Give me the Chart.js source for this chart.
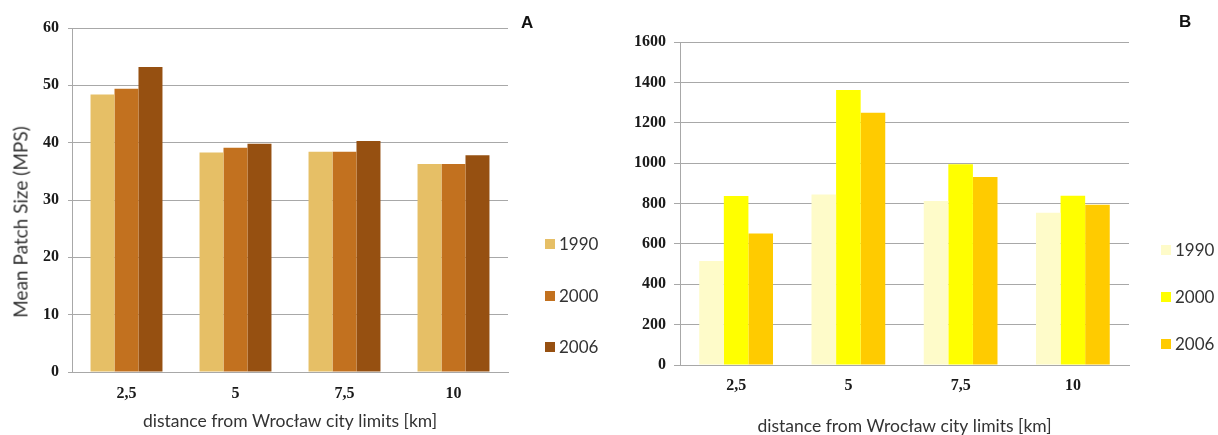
<!DOCTYPE html>
<html>
<head>
<meta charset="utf-8">
<script src="https://cdn.jsdelivr.net/npm/chart.js@4.4.1/dist/chart.umd.min.js"></script>
<style>
  html, body { margin: 0; padding: 0; background: #fff; }
  #wrap { position: relative; width: 1218px; height: 435px; overflow: hidden; background: #fff; }
  canvas { position: absolute; top: 0; }
  .lbl { position: absolute; font-family: 'Liberation Sans', Arial, sans-serif; font-weight: bold; font-size: 17px; color: #111; line-height: 1; }
  .ytitle { position: absolute; font-family: Lato, 'Open Sans', sans-serif; font-size: 19px; color: #333; white-space: nowrap; transform: translate(-50%, -50%) rotate(-90deg); line-height: 1; }
  .leg { position: absolute; font-family: Lato, 'Open Sans', sans-serif; font-size: 17px; color: #333; line-height: 1; white-space: nowrap; display: flex; align-items: center; }
  .leg i { display: inline-block; width: 10px; height: 10px; margin-right: 4px; }
</style>
</head>
<body>
<div id="wrap">
  <canvas id="cA" width="610" height="435" style="left:0px"></canvas>
  <canvas id="cB" width="608" height="435" style="left:610px"></canvas>
  <div class="lbl" style="left:521px; top:14px;">A</div>
  <div class="lbl" style="left:1179px; top:13px;">B</div>
  <div class="ytitle" style="left:20px; top:222px;">Mean Patch Size (MPS)</div>
  <div id="legA"></div>
  <div id="legB"></div>
</div>
<script>
// ---- data ----
const categories = ['2,5', '5', '7,5', '10'];
const years = ['1990', '2000', '2006'];
const mps1990 = [48.4, 38.3, 38.4, 36.3];
const mps2000 = [49.4, 39.1, 38.4, 36.3];
const mps2006 = [53.2, 39.8, 40.3, 37.8];
const b1990 = [515, 845, 812, 754];
const b2000 = [837, 1362, 994, 838];
const b2006 = [652, 1250, 931, 794];
const xTitle = 'distance from Wrocław city limits [km]';

// ---- styles ----
const colorsA = ['#E6BF66', '#C2711F', '#965011'];
const colorsB = ['#FEFBC9', '#FFFF00', '#FFCB00'];
const gridColor = '#a8a8a8';
const tickFont = { family: "'Liberation Serif', serif", size: 16, weight: 'bold' };
const titleFont = { family: "Lato, 'Open Sans', sans-serif", size: 17.5, lineHeight: 1 };

function makeChart(id, seriesList, colors, yMax, yStep, opts) {
  const datasets = seriesList.map((d, i) => ({
    label: years[i], data: d, backgroundColor: colors[i], borderWidth: 0,
    categoryPercentage: opts.cat, barPercentage: 1.0
  }));
  return new Chart(document.getElementById(id), {
    type: 'bar',
    data: { labels: categories, datasets },
    options: {
      responsive: false, animation: false, devicePixelRatio: 1,
      layout: { padding: { left: 0, top: opts.top, right: opts.right, bottom: 0 } },
      plugins: { legend: { display: false }, tooltip: { enabled: false } },
      scales: {
        x: {
          grid: { display: false, drawTicks: false },
          border: { display: true, color: gridColor, width: 1 },
          ticks: { font: tickFont, color: '#1a1a1a', padding: opts.xPad, maxRotation: 0 },
          title: { display: true, text: xTitle, font: titleFont, color: '#333', padding: { top: 0, bottom: opts.titlePad } },
          afterFit: (s) => { s.height = opts.xHeight; }
        },
        y: {
          min: 0, max: yMax,
          grid: { color: gridColor, lineWidth: 1, tickLength: opts.tickLen, drawTicks: true },
          border: { display: true, color: gridColor, width: 1 },
          ticks: { stepSize: yStep, font: tickFont, color: '#1a1a1a', padding: opts.yPad,
                   callback: (v) => String(v) },
          afterFit: (s) => { s.width = opts.yWidth; }
        }
      }
    }
  });
}

makeChart('cA', [mps1990, mps2000, mps2006], colorsA, 60, 10,
  { cat: 0.66, top: 28, right: 102, xHeight: 63, xPad: 12, titlePad: 5, tickLen: 4, yPad: 9, yWidth: 72 });
makeChart('cB', [b1990, b2000, b2006], colorsB, 1600, 200,
  { cat: 0.657, top: 42, right: 89, xHeight: 70, xPad: 11, titlePad: 0, tickLen: 6, yPad: 8, yWidth: 70 });

function legend(containerId, colors, left, tops) {
  const c = document.getElementById(containerId);
  years.forEach((y, i) => {
    const d = document.createElement('div');
    d.className = 'leg';
    d.style.left = left + 'px';
    d.style.top = (tops[i] - 9) + 'px';
    d.innerHTML = '<i style="background:' + colors[i] + '"></i>' + y;
    c.appendChild(d);
  });
}
legend('legA', colorsA, 545, [244, 296, 347]);
legend('legB', colorsB, 1161, [250, 297, 344]);
</script>
</body>
</html>
